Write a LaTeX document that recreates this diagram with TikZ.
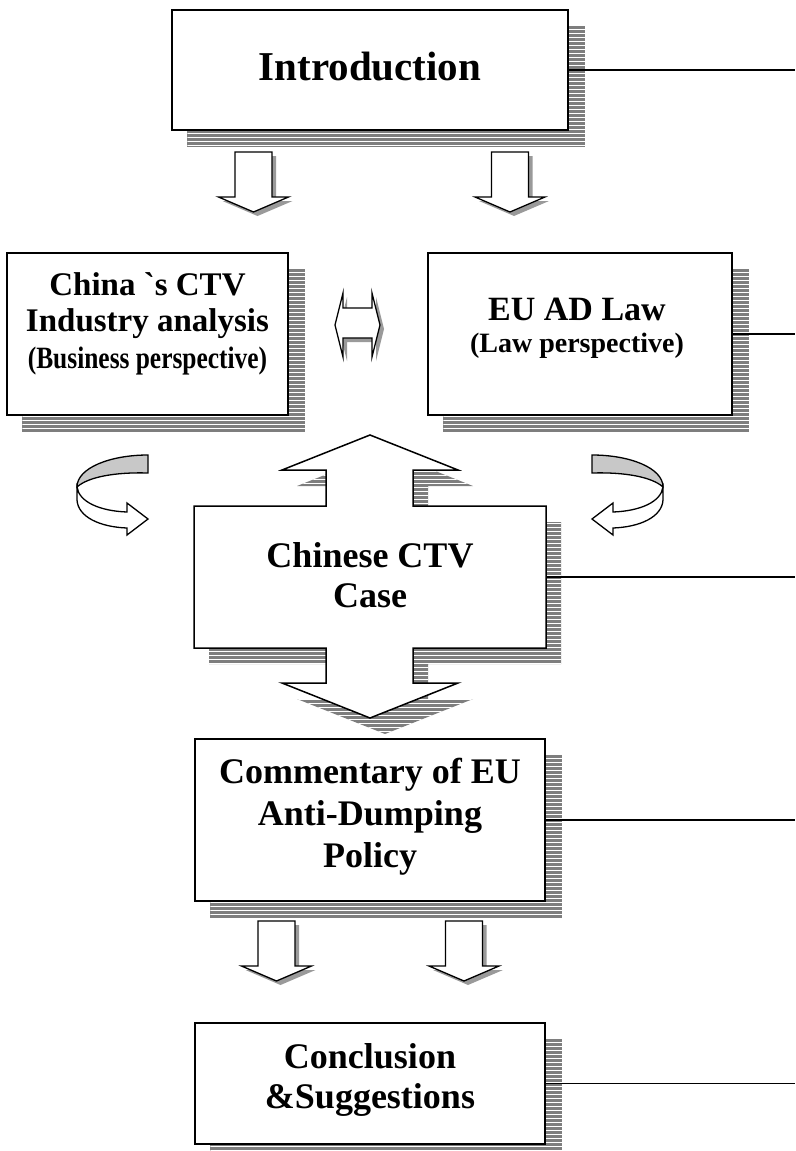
\documentclass[tikz,border=0pt]{standalone}
\usepackage{fontspec}
\usepackage{graphicx}
\newfontfamily\tnr{Liberation Serif}
\usetikzlibrary{backgrounds}
\definecolor{shgray}{HTML}{7E7E7E}
\definecolor{backgray}{HTML}{C8C8C8}
\definecolor{arrshade}{HTML}{9A9A9A}
\tikzset{
  stripeshadow/.style={fill=shgray, path picture={
      \foreach \k in {0,4,...,320}{
        \draw[white,line width=1pt] ([yshift=-\k pt]path picture bounding box.north west) -- ([yshift=-\k pt]path picture bounding box.north east);}}},
  boxnode/.style={draw=black, line width=1.5pt, fill=white, inner sep=0pt},
  txt/.style={align=center, anchor=base, inner sep=0pt},
  connector/.style={draw=black, line width=1.2pt},
  blockarrow/.style={draw=black, line width=1.3pt, fill=white, line join=miter},
  arrshadow/.style={fill=arrshade},
  pics/downarr/.style={code={
      \fill[arrshadow] (-14.5,4) -- (22.5,4) -- (22.5,49) -- (39,49) -- (4,64) -- (-31,49) -- (-14.5,49) -- cycle;
      \draw[blockarrow] (-18.5,0) -- (18.5,0) -- (18.5,45) -- (35,45) -- (0,60) -- (-35,45) -- (-18.5,45) -- cycle;
  }},
}
\begin{document}
\begin{tikzpicture}[x=1pt,y=-1pt]
\useasboundingbox (0,0) rectangle (795,1151);
\coordinate (edge) at (795,0);

% boxes
\node[boxnode, minimum width=396pt, minimum height=120pt] (intro) at (370,70) {};
\node[boxnode, minimum width=281pt, minimum height=162pt] (china) at (147.5,334) {};
\node[boxnode, minimum width=304pt, minimum height=162pt] (eu) at (580,334) {};
\node[boxnode, minimum width=350pt, minimum height=162pt] (comm) at (370,820) {};
\node[boxnode, minimum width=350pt, minimum height=121pt] (concl) at (370,1083.5) {};
\node[inner sep=0pt, minimum width=352pt, minimum height=142pt] (case) at (370,577) {};

% striped shadows
\begin{scope}[on background layer]
  \foreach \n in {intro,china,eu,comm,concl}{
    \path[stripeshadow] ([shift={(16pt,-16pt)}]\n.south west) rectangle ([shift={(16pt,-16pt)}]\n.north east);
  }
  \begin{scope}[shift={(15,16)}]
    \path[stripeshadow] (370,435) -- (458,470) -- (413,470) -- (413,506) -- (546,506) -- (546,648) -- (413,648) -- (413,683) -- (458,683) -- (370,718) -- (282,683) -- (326,683) -- (326,648) -- (194,648) -- (194,506) -- (326,506) -- (326,470) -- (282,470) -- cycle;
  \end{scope}
\end{scope}

% central double block arrow with box
\draw[blockarrow, line width=1.5pt] (370,435) -- (458,470) -- (413,470) -- (413,506) -- (546,506) -- (546,648) -- (413,648) -- (413,683) -- (458,683) -- (370,718) -- (282,683) -- (326,683) -- (326,648) -- (194,648) -- (194,506) -- (326,506) -- (326,470) -- (282,470) -- cycle;

% connectors to the right edge
\foreach \n in {intro,eu,case,comm,concl}{
  \draw[connector] (\n.east) -- (\n.east -| edge);
}

% small down arrows
\pic (ia) at (253.5,152) {downarr};
\pic (ib) at (510,152) {downarr};
\pic (ca) at (276.5,921) {downarr};
\pic (cb) at (464,921) {downarr};

% double horizontal arrow
\fill[arrshadow] (339,329) -- (347,297) -- (347,312) -- (376,312) -- (376,297) -- (384,329) -- (376,361) -- (376,342) -- (347,342) -- (347,361) -- cycle;
\draw[blockarrow] (335,325) -- (343,293) -- (343,308) -- (372,308) -- (372,293) -- (380,325) -- (372,357) -- (372,338) -- (343,338) -- (343,357) -- cycle;

% curved arrows
\begin{scope}
  \draw[line width=1.3pt, fill=backgray] (148,455) .. controls (110,455) and (77,468) .. (77,487) .. controls (88,477) and (115,472) .. (148,473) -- cycle;
  \draw[blockarrow] (77,487) -- (77,500) .. controls (78,517) and (100,527) .. (127,528) -- (127,535) -- (148,519) -- (127,503) -- (127,512) .. controls (100,511) and (79,502) .. (77,487) -- cycle;
\end{scope}
\begin{scope}[xshift=740pt, xscale=-1]
  \draw[line width=1.3pt, fill=backgray] (148,455) .. controls (110,455) and (77,468) .. (77,487) .. controls (88,477) and (115,472) .. (148,473) -- cycle;
  \draw[blockarrow] (77,487) -- (77,500) .. controls (78,517) and (100,527) .. (127,528) -- (127,535) -- (148,519) -- (127,503) -- (127,512) .. controls (100,511) and (79,502) .. (77,487) -- cycle;
\end{scope}

% texts (base anchor = baseline of the last line)
\node[txt, font={\tnr\bfseries\fontsize{41}{45}\selectfont}] (introtxt) at (370,80) {Introduction};
\node[txt, font={\tnr\bfseries\fontsize{33}{36.5}\selectfont}] (chinatxt) at (147.5,368)
  {China `s CTV\\Industry analysis\\{\fontsize{31}{36.5}\selectfont\scalebox{0.82}[1]{(Business perspective)}}};
\node[txt, font={\tnr\bfseries\fontsize{34}{32}\selectfont}] (eutxt) at (577,352)
  {EU AD Law\\{\fontsize{28}{32}\selectfont(Law perspective)}};
\node[txt, font={\tnr\bfseries\fontsize{36}{40}\selectfont}] (casetxt) at (370,607) {Chinese CTV\\Case};
\node[txt, font={\tnr\bfseries\fontsize{36}{42}\selectfont}] (commtxt) at (370,867) {Commentary of EU\\Anti-Dumping\\Policy};
\node[txt, font={\tnr\bfseries\fontsize{36}{40}\selectfont}] (concltxt) at (370,1108) {Conclusion\\\&Suggestions};
\end{tikzpicture}
\end{document}
